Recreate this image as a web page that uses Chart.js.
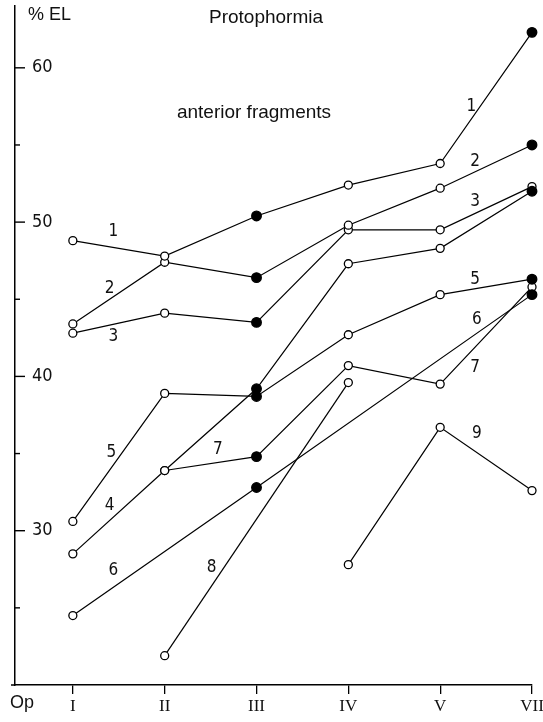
<!DOCTYPE html>
<html lang="en">
<head>
    <meta charset="UTF-8">
    <title>Protophormia - anterior fragments</title>
    <style>
        html, body {
            margin: 0;
            padding: 0;
            background: #fff;
        }
        .wrap {
            width: 543px;
            height: 722px;
        }
    </style>
</head>
<body>
    <div class="wrap">
        <canvas id="chart" width="543" height="722"></canvas>
    </div>

    <script src="https://cdn.jsdelivr.net/npm/chart.js"></script>
    <script>
        // operation stages on the x axis (I..V, VII)
        const categories = ['I', 'II', 'III', 'IV', 'V', 'VII'];
        const yTicks = [30, 40, 50, 60];
        const yMinorTicks = [25, 35, 45, 55];

        // % EL per curve, null = no measurement
        const series1 = [48.8, 47.8, 50.4, 52.4, 53.8, 62.3];
        const series2 = [43.4, 47.4, 46.4, 49.8, 52.2, 55.0];
        const series3 = [42.8, 44.1, 43.5, 49.5, 49.5, 52.3];
        const series4 = [28.5, 33.9, 39.2, 47.3, 48.3, 52.0];
        const series5 = [30.6, 38.9, 38.7, 42.7, 45.3, 46.3];
        const series6 = [24.5, null, 32.8, null, null, 45.3];
        const series7 = [null, 33.9, 34.8, 40.7, 39.5, 45.8];
        const series8 = [null, 21.9, null, 39.6, null, null];
        const series9 = [null, null, null, 27.8, 36.7, 32.6];

        const allSeries = [series1, series2, series3, series4, series5, series6, series7, series8, series9];
        // last point drawn as open circle for these curves
        const openAtEnd = [false, false, true, false, false, false, true, false, true];

        // curve numbers written next to the lines (in data units)
        const curveLabels = [
            { text: '1', x: 0.44, y: 49.4 },
            { text: '2', x: 0.40, y: 45.7 },
            { text: '3', x: 0.44, y: 42.6 },
            { text: '5', x: 0.42, y: 35.05 },
            { text: '4', x: 0.40, y: 31.6 },
            { text: '6', x: 0.44, y: 27.4 },
            { text: '7', x: 1.58, y: 35.25 },
            { text: '8', x: 1.51, y: 27.6 },
            { text: '1', x: 4.34, y: 57.5 },
            { text: '2', x: 4.38, y: 53.9 },
            { text: '3', x: 4.38, y: 51.3 },
            { text: '5', x: 4.38, y: 46.3 },
            { text: '6', x: 4.40, y: 43.7 },
            { text: '7', x: 4.38, y: 40.6 },
            { text: '9', x: 4.40, y: 36.3 }
        ];

        const narrow = '"Liberation Sans Narrow", "DejaVu Sans Condensed", "Liberation Sans", sans-serif';

        const datasets = allSeries.map((values, i) => {
            const points = values
                .map((v, k) => ({ x: k, y: v }))
                .filter(p => p.y !== null);
            const filled = points.map(p => p.x === 2 || (p.x === 5 && !openAtEnd[i]));
            return {
                label: 'Curve ' + (i + 1),
                data: points,
                borderColor: '#000',
                borderWidth: 1.2,
                pointBorderColor: '#000',
                pointBorderWidth: 1.3,
                pointBackgroundColor: filled.map(f => f ? '#000' : '#fff'),
                pointRadius: filled.map(f => f ? 4.8 : 4),
                tension: 0,
                clip: false,
                order: openAtEnd[i] ? 1 : 0
            };
        });

        const decorations = {
            id: 'decorations',
            afterDraw(chart) {
                const ctx = chart.ctx;
                const xs = chart.scales.x;
                const ys = chart.scales.y;
                const left = chart.chartArea.left;
                ctx.save();
                ctx.strokeStyle = '#000';
                ctx.lineWidth = 1.4;
                yTicks.forEach(v => {
                    const py = ys.getPixelForValue(v);
                    ctx.beginPath();
                    ctx.moveTo(left, py);
                    ctx.lineTo(left + 10, py);
                    ctx.stroke();
                });
                yMinorTicks.forEach(v => {
                    const py = ys.getPixelForValue(v);
                    ctx.beginPath();
                    ctx.moveTo(left, py);
                    ctx.lineTo(left + 5, py);
                    ctx.stroke();
                });
                // x axis runs a little past the y axis
                const bottom = chart.chartArea.bottom;
                ctx.lineWidth = 1.5;
                ctx.beginPath();
                ctx.moveTo(left - 4, bottom);
                ctx.lineTo(left, bottom);
                ctx.stroke();

                ctx.fillStyle = '#111';
                ctx.textBaseline = 'middle';
                ctx.font = '19px "Liberation Sans", Arial, sans-serif';
                ctx.textAlign = 'center';
                ctx.fillText('Protophormia', 266, 18);
                ctx.fillText('anterior fragments', 254, 113);
                ctx.textAlign = 'left';
                ctx.font = '18px "Liberation Sans", Arial, sans-serif';
                ctx.fillText('% EL', 28, 15);
                ctx.fillText('Op', 10, 703);

                ctx.font = '17px ' + narrow;
                ctx.textAlign = 'center';
                curveLabels.forEach(l => {
                    ctx.fillText(l.text, xs.getPixelForValue(l.x), ys.getPixelForValue(l.y));
                });
                ctx.restore();
            }
        };

        new Chart(document.getElementById('chart'), {
            type: 'line',
            data: { datasets: datasets },
            options: {
                responsive: false,
                animation: false,
                events: [],
                layout: { padding: { top: 4, right: 11, left: 0, bottom: 0 } },
                plugins: {
                    legend: { display: false },
                    tooltip: { enabled: false }
                },
                scales: {
                    x: {
                        type: 'linear',
                        min: -0.63,
                        max: 5,
                        afterBuildTicks: scale => {
                            scale.ticks = categories.map((c, i) => ({ value: i }));
                        },
                        afterFit: scale => {
                            scale.height = 37;
                            scale.paddingLeft = 0;
                            scale.paddingRight = 0;
                        },
                        ticks: {
                            autoSkip: false,
                            maxRotation: 0,
                            padding: 2,
                            color: '#111',
                            font: { family: '"Liberation Serif", "DejaVu Serif", serif', size: 17 },
                            callback: v => categories[v] ?? ''
                        },
                        grid: {
                            drawOnChartArea: false,
                            drawTicks: true,
                            tickLength: 9,
                            color: '#000',
                            lineWidth: 1.3
                        },
                        border: { display: true, color: '#000', width: 1.5 }
                    },
                    y: {
                        type: 'linear',
                        min: 20,
                        max: 64,
                        afterBuildTicks: scale => {
                            scale.ticks = yTicks.map(v => ({ value: v }));
                        },
                        afterFit: scale => {
                            scale.width = 15;
                            scale.paddingTop = 0;
                            scale.paddingBottom = 0;
                        },
                        ticks: {
                            mirror: true,
                            padding: 17,
                            color: '#111',
                            font: { family: narrow, size: 18 }
                        },
                        grid: { drawOnChartArea: false, drawTicks: false },
                        border: { display: true, color: '#000', width: 1.5 }
                    }
                }
            },
            plugins: [decorations]
        });
    </script>
</body>
</html>
